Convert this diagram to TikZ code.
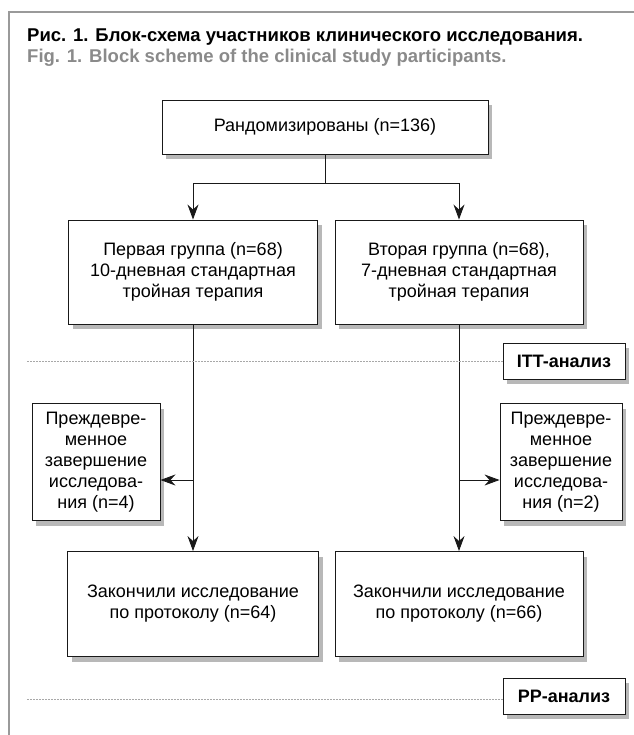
\documentclass[tikz,border=0pt]{standalone}
\usepackage{fontspec}
\setmainfont{Liberation Sans}
\usetikzlibrary{arrows.meta,shadows}
\definecolor{framegray}{HTML}{9A9A9A}
\definecolor{titlegray}{HTML}{8A8A8A}
\definecolor{dashgray}{HTML}{A8A8A8}
\begin{document}
\begin{tikzpicture}[x=1pt,y=-1pt]

    \tikzset{
      box/.style={
        draw=black!90,
        line width=0.9pt,
        fill=white,
        align=center,
        inner sep=2pt,
        font=\fontsize{18}{21}\selectfont,
        drop shadow={shadow xshift=4pt,shadow yshift=-5pt,fill=black,opacity=.28},
      },
      tag/.style={
        box,
        font=\fontsize{18}{20}\selectfont\bfseries,
        minimum width=122pt,
        minimum height=36pt,
      },
      arrow/.style={
        draw=black!90,
        line width=0.9pt,
        -{Stealth[length=15pt,width=11pt,inset=5pt]},
      },
      cut/.style={
        draw=dashgray,
        line width=0.7pt,
        dash pattern=on 2pt off 1pt,
      },
    }
    \useasboundingbox (0,0) rectangle (633,735);
    \draw[framegray,line width=2pt] (9,735) -- (9,12) -- (634,12);

    % caption
    \node[anchor=base west,inner sep=0pt,font=\fontsize{18.5}{21}\selectfont\bfseries] (cap) at (27,42)
      {Рис. 1. Блок-схема участников клинического исследования.};
    \node[anchor=base west,inner sep=0pt,text=titlegray,font=\fontsize{18.5}{21}\selectfont\bfseries] (capen) at (27,63)
      {Fig. 1. Block scheme of the clinical study participants.};

    % boxes
    \node[box,minimum width=326pt,minimum height=54pt] (rand) at (325,127) {Рандомизированы (n=136)};
    \node[box,minimum width=249pt,minimum height=104pt] (grp1) at (193,272)
      {Первая группа (n=68)\\10-дневная стандартная\\тройная терапия};
    \node[box,minimum width=248pt,minimum height=104pt] (grp2) at (459,272)
      {Вторая группа (n=68),\\7-дневная стандартная\\тройная терапия};
    \node[box,minimum width=128pt,minimum height=117pt] (drop1) at (96,462)
      {Преждевре-\\менное\\завершение\\исследова-\\ния (n=4)};
    \node[box,minimum width=122pt,minimum height=117pt] (drop2) at (561,462)
      {Преждевре-\\менное\\завершение\\исследова-\\ния (n=2)};
    \node[box,minimum width=251pt,minimum height=105pt] (done1) at (193,604)
      {Закончили исследование\\по протоколу (n=64)};
    \node[box,minimum width=248pt,minimum height=105pt] (done2) at (459,604)
      {Закончили исследование\\по протоколу (n=66)};
    \node[tag] (itt) at (564,361) {ITT-анализ};
    \node[tag] (pp) at (564,696) {PP-анализ};

    % connectors
    \coordinate (fork) at (325,183);
    \coordinate (out1) at (193,480);
    \coordinate (out2) at (459,480);
    \coordinate (ittline) at (27,361);
    \coordinate (ppline) at (27,699);
    \draw[arrow,-] (rand) -- (fork);
    \draw[arrow] (fork) -| (grp1.north);
    \draw[arrow] (fork) -| (grp2.north);
    \draw[arrow] (grp1) -- (done1);
    \draw[arrow] (grp2) -- (done2);
    \draw[arrow] (out1) -- (drop1.east |- out1);
    \draw[arrow] (out2) -- (drop2.west |- out2);
    \draw[cut] (ittline) -- (ittline -| itt.west);
    \draw[cut] (ppline) -- (ppline -| pp.west);

\end{tikzpicture}
\end{document}
